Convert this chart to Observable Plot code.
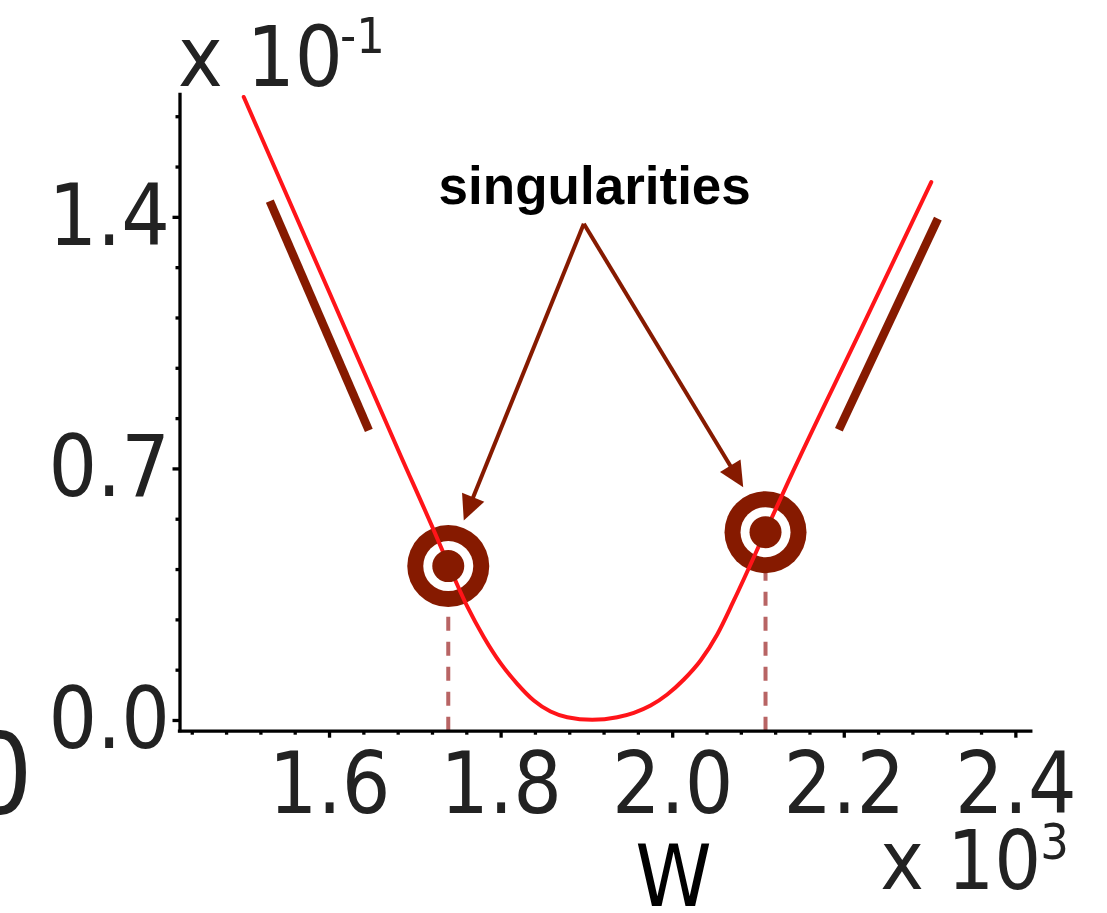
<!DOCTYPE html>
<html>
<head>
<meta charset="utf-8">
<script src="https://cdn.jsdelivr.net/npm/d3@7"></script>
<script src="https://cdn.jsdelivr.net/npm/@observablehq/plot@0.6"></script>
<style>
  html, body { margin: 0; padding: 0; background: #fff; overflow: hidden; }
  #chart svg { display: block; }
</style>
</head>
<body>
<div id="chart"></div>
<script>
// Dispersion-like curve: W (x 10^3) against the response (x 10^-1)
const curveW = [1.500, 1.600, 1.6828, 1.7216, 1.7384, 1.7605, 1.7799, 1.7993, 1.8188, 1.8381,
                1.8576, 1.8771, 1.9062, 1.9354, 1.9547, 1.9742, 1.9936, 2.0130, 2.0325, 2.0519,
                2.0713, 2.1082, 2.1354, 2.2190, 2.3014];
const curveV = [1.735, 1.190, 0.7375, 0.5288, 0.435, 0.3173, 0.2318, 0.1595, 0.1021, 0.0557,
                0.0250, 0.0092, 0.0019, 0.0092, 0.0214, 0.0417, 0.0724, 0.1141, 0.1670, 0.2394,
                0.3340, 0.5260, 0.6680, 1.0854, 1.4982];

// Asymptotic branches drawn beside the curve
const asymptoteSide = ["left", "left", "right", "right"];
const asymptoteW = [1.5304, 1.6458, 2.1937, 2.3091];
const asymptoteV = [1.4453, 0.8071, 0.8091, 1.3963];

// Singular points
const singularW = [1.7384, 2.1082];
const singularV = [0.4296, 0.5240];

// Annotation
const noteText = ["singularities"];
const noteW = [1.9091];
const noteV = [1.438];
const arrowFromW = 1.8964;
const arrowFromV = 1.3824;
const arrowToW = [1.7565, 2.0822];
const arrowToV = [0.5566, 0.6493];

// Axes
const xMajor = [1.6, 1.8, 2.0, 2.2, 2.4];
const xMinor = [1.44, 1.48, 1.52, 1.56, 1.64, 1.68, 1.72, 1.76, 1.84, 1.88, 1.92, 1.96,
                2.04, 2.08, 2.12, 2.16, 2.24, 2.28, 2.32, 2.36];
const yMajor = [0.0, 0.7, 1.4];
const yMinor = [0.14, 0.28, 0.42, 0.56, 0.84, 0.98, 1.12, 1.26, 1.54, 1.68];
const xDomain = [1.4257, 2.418];
const yDomain = [-0.0298, 1.741];
const unitBase = "x 10";
const xUnitExp = "3";
const yUnitExp = "-1";
const xTitle = "W";
const edgeLabel = ["0"];

const width = 1107, height = 913;
const marginLeft = 179.5, marginRight = 76.2, marginTop = 94.3, marginBottom = 182.3;

const DARK = "#861a00";
const RED = "#ff1419";
const ROSE = "#b86464";
const INK = "#222";
const FONT = "'DejaVu Sans Condensed', 'DejaVu Sans', sans-serif";

const curve = curveW.map((w, i) => ({w, v: curveV[i]}));
const asymptotes = asymptoteW.map((w, i) => ({w, v: asymptoteV[i], side: asymptoteSide[i]}));
const singular = singularW.map((w, i) => ({w, v: singularV[i]}));
const note = noteText.map((t, i) => ({t, w: noteW[i], v: noteV[i]}));

// Same scales as the chart, used to orient the arrowheads in screen space
const sx = Plot.scale({x: {domain: xDomain, range: [marginLeft, width - marginRight]}});
const sy = Plot.scale({y: {domain: yDomain, range: [height - marginBottom, marginTop]}});
const headLength = 25;
const arrows = arrowToW.map((w, i) => {
  const x0 = sx.apply(arrowFromW), y0 = sy.apply(arrowFromV);
  const x1 = sx.apply(w), y1 = sy.apply(arrowToV[i]);
  const dx = x1 - x0, dy = y1 - y0, L = Math.hypot(dx, dy);
  const back = headLength * 0.6;
  return {
    w0: arrowFromW, v0: arrowFromV,
    w1: sx.invert(x1 - dx / L * back), v1: sy.invert(y1 - dy / L * back),
    tipW: w, tipV: arrowToV[i],
    angle: Math.atan2(dx, -dy) * 180 / Math.PI
  };
});

// Filled arrowhead with its tip at the origin, pointing up
const arrowhead = {
  draw(context, size) {
    const r = Math.sqrt(size / Math.PI);
    context.moveTo(0, 0);
    context.lineTo(-0.48 * r, r);
    context.lineTo(0.48 * r, r);
    context.closePath();
  }
};

const unitText = (t, anchor, dx, dy, size) =>
  Plot.text([t], {text: d => d, frameAnchor: anchor, dx, dy, textAnchor: "start",
    lineAnchor: "bottom", fontSize: size, fill: INK});

const chart = Plot.plot({
  width, height, marginLeft, marginRight, marginTop, marginBottom,
  style: {fontFamily: FONT, background: "#fff", overflow: "visible"},
  x: {domain: xDomain, axis: null},
  y: {domain: yDomain, axis: null},
  marks: [
    // drop lines from the singular points
    Plot.ruleX(singular, {x: "w", y1: yDomain[0], y2: "v", stroke: ROSE, strokeWidth: 4, strokeDasharray: "14,11"}),
    // target rings
    Plot.dot(singular, {x: "w", y: "v", r: 41, fill: DARK}),
    Plot.dot(singular, {x: "w", y: "v", r: 25, fill: "#fff"}),
    // asymptotic segments
    Plot.line(asymptotes, {x: "w", y: "v", z: "side", stroke: DARK, strokeWidth: 8.5, strokeLinecap: "butt"}),
    // the curve
    Plot.line(curve, {x: "w", y: "v", stroke: RED, strokeWidth: 4, curve: "monotone-x"}),
    Plot.dot(singular, {x: "w", y: "v", r: 16, fill: DARK}),
    // annotation arrows
    Plot.link(arrows, {x1: "w0", y1: "v0", x2: "w1", y2: "v1", stroke: DARK, strokeWidth: 4, strokeLinecap: "butt"}),
    Plot.dot(arrows, {x: "tipW", y: "tipV", rotate: "angle", symbol: arrowhead, r: headLength, fill: DARK, stroke: "none"}),
    Plot.text(note, {x: "w", y: "v", text: "t", fontFamily: "'Liberation Sans', Arial, sans-serif",
      fontWeight: "bold", fontSize: 53, fill: "#000", lineAnchor: "bottom", textAnchor: "middle"}),
    // axes
    Plot.axisX(xMinor, {anchor: "bottom", tickSize: 4, strokeWidth: 3.3, stroke: "#000", tickFormat: () => "", label: null}),
    Plot.axisX(xMajor, {anchor: "bottom", tickSize: 7, tickPadding: 14, strokeWidth: 3.3, stroke: "#000",
      fill: INK, fontSize: 85, tickFormat: d3.format(".1f"), label: null}),
    Plot.axisY(yMinor, {anchor: "left", tickSize: 4, strokeWidth: 3.3, stroke: "#000", tickFormat: () => "", label: null}),
    Plot.axisY(yMajor, {anchor: "left", tickSize: 7, tickPadding: 3, strokeWidth: 3.3, stroke: "#000",
      fill: INK, fontSize: 85, tickFormat: d3.format(".1f"), label: null}),
    Plot.ruleX([xDomain[0]], {y1: yDomain[0], y2: yDomain[1], stroke: "#000", strokeWidth: 3.3, strokeLinecap: "square"}),
    Plot.ruleY([yDomain[0]], {x1: xDomain[0], x2: xDomain[1], stroke: "#000", strokeWidth: 3.3, strokeLinecap: "square"}),
    // unit multipliers (base and raised exponent) and axis title
    unitText(unitBase, "top-left", -2, -9.3, 84),
    unitText(yUnitExp, "top-left", 160, -41.5, 50),
    unitText(unitBase, "bottom-right", -151, 157.3, 82),
    unitText(xUnitExp, "bottom-right", 9, 127.6, 50),
    Plot.text([xTitle], {text: d => d, frameAnchor: "bottom", dx: 67.9, dy: 175, textAnchor: "middle",
      lineAnchor: "bottom", fontSize: 86, fill: "#000"}),
    Plot.text(edgeLabel, {text: d => d, frameAnchor: "bottom-left", dx: -179.5, dy: 81.3, textAnchor: "middle",
      lineAnchor: "bottom", fontSize: 112, fill: INK})
  ]
});

document.getElementById("chart").append(chart);
</script>
</body>
</html>
